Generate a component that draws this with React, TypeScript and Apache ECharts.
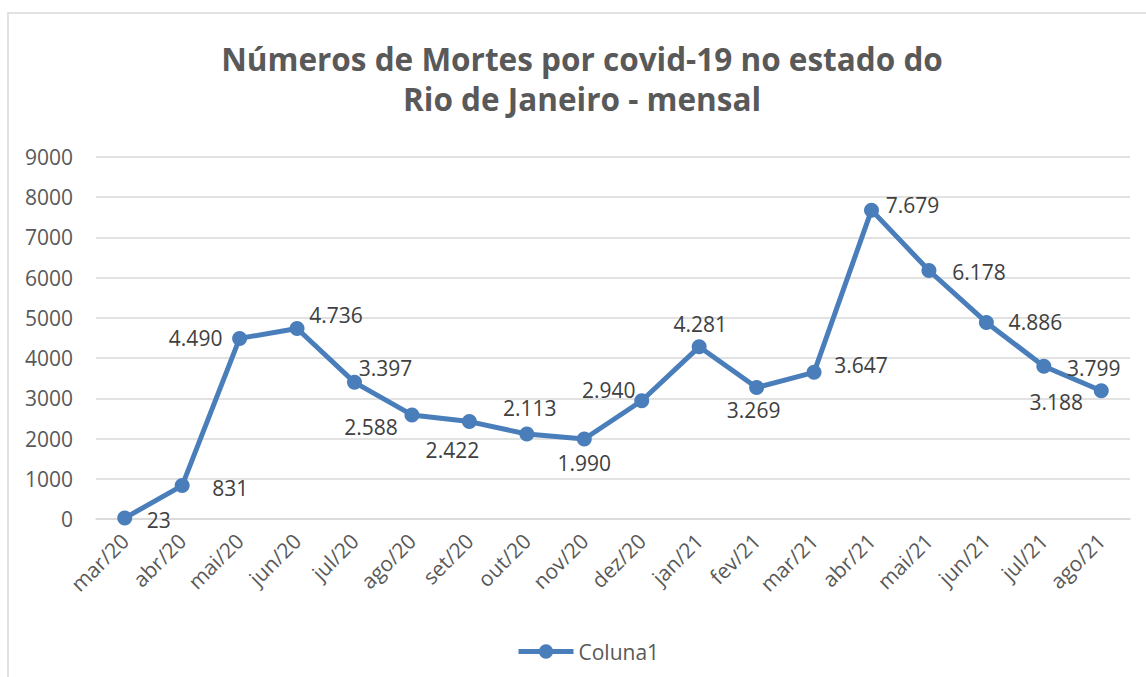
import React, { useEffect, useRef } from "react";
import * as echarts from "echarts";

const categories = ["mar/20", "abr/20", "mai/20", "jun/20", "jul/20", "ago/20", "set/20", "out/20", "nov/20", "dez/20", "jan/21", "fev/21", "mar/21", "abr/21", "mai/21", "jun/21", "jul/21", "ago/21"];
const deaths = [23, 831, 4490, 4736, 3397, 2588, 2422, 2113, 1990, 2940, 4281, 3269, 3647, 7679, 6178, 4886, 3799, 3188];
const yTicks = [0, 1000, 2000, 3000, 4000, 5000, 6000, 7000, 8000, 9000];
// per-point label offsets (style only)
const labelOffsets: [number, number][] = [
  [34, 2], [48, 2], [-44, 0], [39, -14], [31, -14], [-41, 12], [-17, 28], [3, -26], [0, 24],
  [-33, -11], [1, -23], [-3, 22], [47, -7], [41, -5], [50, 1], [49, 0], [50, 2], [-45, 11],
];

const FONT = "'Open Sans', 'Noto Sans', sans-serif";

function fmt(v: number): string {
  const s = String(v);
  return s.length > 3 ? s.slice(0, s.length - 3) + "." + s.slice(s.length - 3) : s;
}

export default function App() {
  const ref = useRef<HTMLDivElement>(null);
  useEffect(() => {
    if (!ref.current) return;
    const chart = echarts.init(ref.current, undefined, { renderer: "svg" });
    const color = "#4A7EBB";
    chart.setOption({
      animation: false,
      backgroundColor: "#ffffff",
      title: {
        text: "Números de Mortes por covid-19 no estado do\nRio de Janeiro - mensal",
        left: 577,
        top: 33,
        textAlign: "center",
        textStyle: {
          fontFamily: FONT,
          fontSize: 31.5,
          fontWeight: "bold",
          color: "#595959",
          lineHeight: 40,
        },
      },
      graphic: [
        {
          type: "rect",
          shape: { x: 8, y: 13, width: 1160, height: 700 },
          style: { fill: "none", stroke: "#d9d9d9", lineWidth: 1.5 },
          silent: true,
          z: -10,
        },
      ],
      legend: {
        left: 511,
        top: 636,
        itemWidth: 55,
        itemHeight: 18,
        itemGap: 4,
        lineStyle: { width: 5 },
        textStyle: { fontFamily: FONT, fontSize: 21, color: "#595959" },
        data: ["Coluna1"],
      },
      grid: { left: 96, right: 16, top: 157, bottom: 158 },
      xAxis: {
        type: "category",
        data: categories,
        boundaryGap: true,
        axisLine: { show: true, lineStyle: { color: "#d9d9d9", width: 1.5 } },
        axisTick: { show: false },
        axisLabel: {
          rotate: 45,
          margin: 18,
          interval: 0,
          fontFamily: FONT,
          fontSize: 21,
          color: "#595959",
        },
      },
      yAxis: {
        type: "value",
        min: yTicks[0],
        max: yTicks[yTicks.length - 1],
        interval: 1000,
        axisLine: { show: false },
        axisTick: { show: false },
        splitLine: { lineStyle: { color: "#d9d9d9", width: 1.5 } },
        axisLabel: {
          margin: 23,
          fontFamily: FONT,
          fontSize: 21,
          color: "#595959",
          formatter: (v: number) => String(v),
        },
      },
      series: [
        {
          name: "Coluna1",
          type: "line",
          data: deaths.map((v, i) => ({
            value: v,
            label: { offset: labelOffsets[i] },
          })),
          lineStyle: { color, width: 5 },
          itemStyle: { color },
          symbol: "circle",
          symbolSize: 15,
          label: {
            show: true,
            position: "inside",
            align: "center",
            verticalAlign: "middle",
            fontFamily: FONT,
            fontSize: 21,
            color: "#404040",
            formatter: (p: any) => fmt(p.value),
          },
        },
      ],
    });
    return () => chart.dispose();
  }, []);
  return (
    <div
      ref={ref}
      style={{ position: "fixed", left: 0, top: 0, width: 1146, height: 677 }}
    />
  );
}
